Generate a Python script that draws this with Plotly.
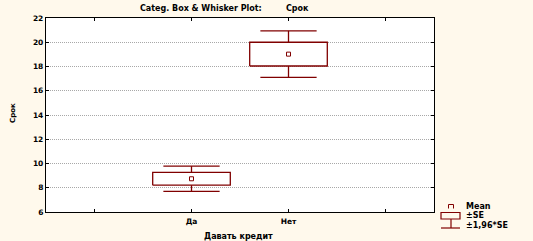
import plotly.graph_objects as go

categories = ["Да", "Нет"]
cat_positions = [2, 3]
means = [8.74, 19.02]
se = [0.53, 0.98]
se_mult = 1.96
tick_positions = [1, 2, 3, 4]
tick_labels = ["", "Да", "Нет", ""]
y_ticks = [6, 8, 10, 12, 14, 16, 18, 20, 22]

RED = "#800000"
BG = "#FFF9EC"
FONT = "DejaVu Sans"
FS = 8

W, H = 533, 241
ML, MR, MT, MB = 46, 99, 18, 29
PW, PH = W - ML - MR, H - MT - MB

def px(xp):
    return (xp - ML) / PW

def py(yp):
    return (H - MB - yp) / PH

def f(size=FS):
    return dict(family=FONT, size=size, color="black", weight="bold")

fig = go.Figure()

box_hw = 0.4
cap_hw = 0.29
for c, m, s in zip(cat_positions, means, se):
    lo, hi = m - s, m + s
    wlo, whi = m - se_mult * s, m + se_mult * s
    fig.add_trace(go.Scatter(
        x=[c - box_hw, c + box_hw, c + box_hw, c - box_hw, c - box_hw],
        y=[lo, lo, hi, hi, lo], mode="lines",
        line=dict(color=RED, width=1.3), hoverinfo="skip", showlegend=False))
    fig.add_trace(go.Scatter(
        x=[c, c, None, c - cap_hw, c + cap_hw, None, c, c, None, c - cap_hw, c + cap_hw],
        y=[hi, whi, None, whi, whi, None, lo, wlo, None, wlo, wlo], mode="lines",
        line=dict(color=RED, width=1.3), hoverinfo="skip", showlegend=False))

fig.add_trace(go.Scatter(
    x=cat_positions, y=means, mode="markers",
    marker=dict(symbol="square-open", size=4, color=RED, line=dict(width=1, color=RED)),
    showlegend=False, hoverinfo="skip"))

axis_common = dict(showline=True, linecolor="black", linewidth=1.3, mirror="ticks",
                   ticks="inside", ticklen=3, tickcolor="black", tickwidth=1.3, zeroline=False,
                   tickfont=dict(family=FONT, size=7.5, color="black", weight="bold"))

fig.update_xaxes(range=[0.5, 4.5], tickvals=tick_positions, ticktext=tick_labels,
                 showgrid=False, ticklabelstandoff=2, **axis_common)
fig.update_yaxes(range=[6, 22], tickvals=y_ticks, showgrid=True,
                 gridcolor="#a8a8a8", griddash="1px,1px", gridwidth=1, **axis_common)

annotations = [
    dict(text="Categ. Box & Whisker Plot:", x=px(138), y=py(9), xref="paper", yref="paper",
         showarrow=False, font=f(), xanchor="left", yanchor="middle"),
    dict(text="Срок", x=px(284), y=py(9), xref="paper", yref="paper",
         showarrow=False, font=f(), xanchor="left", yanchor="middle"),
    dict(text="Давать кредит", x=px(238), y=py(236), xref="paper", yref="paper",
         showarrow=False, font=f(), xanchor="center", yanchor="middle"),
    dict(text="Срок", x=px(13), y=py(113), xref="paper", yref="paper", textangle=-90,
         showarrow=False, font=f(7), xanchor="center", yanchor="middle"),
]
legend_items = [("Mean", 206), ("±SE", 215.5), ("±1,96*SE", 225)]
for t, yy in legend_items:
    annotations.append(dict(text=t, x=px(464), y=py(yy), xref="paper", yref="paper",
                            showarrow=False, font=f(), xanchor="left", yanchor="middle"))

shapes = [
    dict(type="path", path=f"M {px(448.5)} {py(208.5)} L {px(448.5)} {py(204.5)} L {px(453.5)} {py(204.5)} L {px(453.5)} {py(208.5)}",
         xref="paper", yref="paper", line=dict(color=RED, width=1)),
    dict(type="rect", x0=px(441), x1=px(460), y0=py(212.5), y1=py(219), xref="paper", yref="paper",
         line=dict(color=RED, width=1.2)),
    dict(type="line", x0=px(451), x1=px(451), y0=py(219), y1=py(228), xref="paper", yref="paper",
         line=dict(color=RED, width=1.2)),
    dict(type="line", x0=px(441), x1=px(460), y0=py(228), y1=py(228), xref="paper", yref="paper",
         line=dict(color=RED, width=1.2)),
]

fig.update_layout(width=W, height=H, margin=dict(l=ML, r=MR, t=MT, b=MB),
                  paper_bgcolor=BG, plot_bgcolor="white", showlegend=False,
                  annotations=annotations, shapes=shapes)

fig.write_html("out.html")
